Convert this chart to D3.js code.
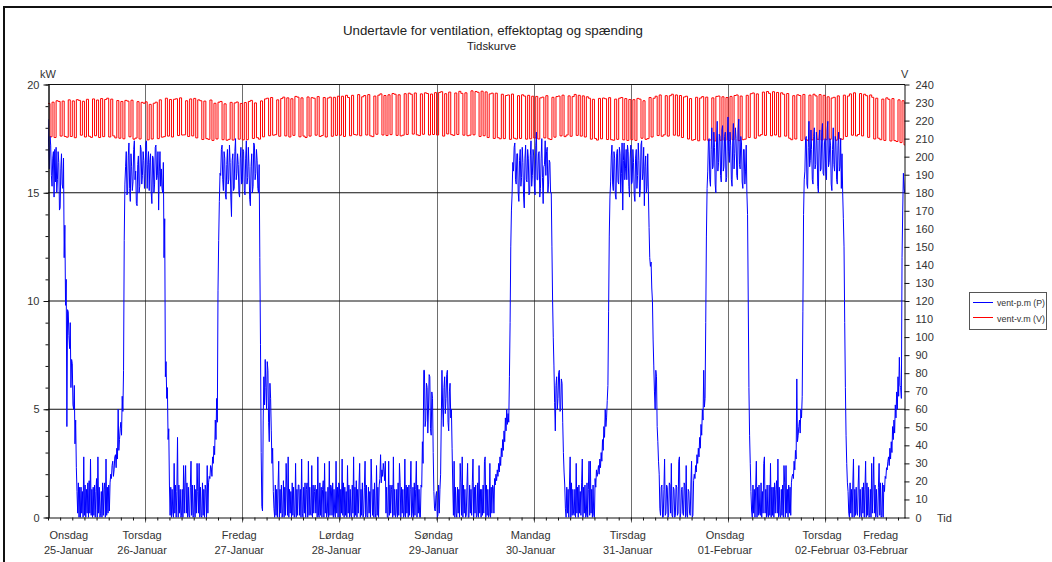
<!DOCTYPE html>
<html>
<head>
<meta charset="utf-8">
<script src="https://cdn.jsdelivr.net/npm/d3@7"></script>
<style>
  html, body { margin: 0; padding: 0; background: #fff; }
  svg { display: block; }
  text { font-family: "Liberation Sans", Arial, sans-serif; }
</style>
</head>
<body>
<svg id="chart" width="1052" height="562"></svg>
<script>
// Ventilation sub-panel: active power (kW, 10-minute samples) and voltage (V, 30-minute samples)
const dayNames   = ["Onsdag", "Torsdag", "Fredag", "Lørdag", "Søndag", "Mandag", "Tirsdag", "Onsdag", "Torsdag", "Fredag"];
const dateLabels = ["25-Januar", "26-Januar", "27-Januar", "28-Januar", "29-Januar", "30-Januar", "31-Januar", "01-Februar", "02-Februar", "03-Februar"];
const kwTicks = [0, 5, 10, 15, 20];
const vTicks  = [0, 10, 20, 30, 40, 50, 60, 70, 80, 90, 100, 110, 120, 130, 140, 150, 160, 170, 180, 190, 200, 210, 220, 230, 240];
const seriesNames = ["vent-p.m (P)", "vent-v.m (V)"];

// Power, kW, six samples per hour (one row per hour)
const powerWed25 = [
  18.4,17.1,16.1,17.6,17.2,15.8,
  15.3,16.6,16.9,14.8,17.0,15.5,
  17.1,15.0,15.6,16.9,16.4,14.2,
  14.3,16.1,16.8,15.4,15.2,16.6,
  12.0,13.5,9.8,11.0,4.2,9.6,
  9.5,8.4,7.8,9.0,6.0,7.3,
  7.1,5.2,5.0,6.1,3.4,4.5,
  2.3,1.2,0.2,1.6,0.0,1.4,
  0.0,1.4,0.2,1.2,0.0,2.8,
  0.1,1.5,0.0,1.3,0.2,1.6,
  0.0,1.7,0.2,2.7,0.1,1.3,
  0.0,1.4,0.1,1.5,0.0,1.2,
  1.8,0.0,2.8,0.2,1.4,0.0,
  0.2,1.2,0.0,1.6,0.1,1.3,
  1.6,0.0,2.7,0.1,1.4,0.2,
  1.5,0.3,1.6,2.0,1.8,2.4,
  2.6,1.9,2.2,2.8,2.9,2.3,
  3.2,2.7,5.0,3.1,3.6,4.1,
  4.4,3.8,5.6,4.9,6.8,12.8,
  15.4,16.2,16.9,14.9,15.0,16.7,
  17.3,15.2,14.6,16.8,16.2,15.1,
  15.5,17.0,17.4,15.6,16.0,14.5,
  14.4,16.3,16.7,15.0,15.3,17.2,
  17.0,15.4,15.8,16.9,16.5,15.2
];
const powerThu26 = [
  15.9,17.3,17.4,15.2,16.3,16.9,
  15.1,16.4,16.8,15.0,14.5,16.7,
  16.6,15.0,15.4,17.1,17.2,15.6,
  15.8,16.9,14.2,16.0,16.9,15.3,
  16.1,15.2,15.0,16.4,12.0,13.8,
  6.5,7.2,5.5,6.0,3.6,4.1,
  1.5,0.1,1.4,0.0,1.3,0.2,
  0.0,2.5,0.2,1.5,0.0,1.2,
  3.7,0.0,1.5,0.2,1.3,0.0,
  0.1,1.3,0.0,2.4,0.2,1.6,
  2.4,0.2,1.6,0.0,1.4,0.1,
  0.0,1.4,2.6,0.1,1.5,0.0,
  0.1,1.5,0.0,1.3,0.2,2.5,
  1.2,0.2,2.5,0.0,1.4,0.1,
  0.0,1.6,0.1,1.3,0.0,1.5,
  1.3,0.0,2.4,0.2,1.6,1.9,
  1.8,2.4,2.3,1.9,2.8,2.5,
  3.3,2.9,4.5,3.6,5.5,4.4,
  10.5,12.8,14.6,15.9,15.8,17.0,
  17.2,15.6,15.1,16.9,16.6,14.9,
  14.7,16.3,17.0,15.4,15.6,17.2,
  16.4,14.8,13.9,16.5,16.8,15.1,
  15.2,16.9,17.5,15.6,15.9,16.8,
  16.3,15.0,14.8,16.6,17.1,15.4
];
const powerFri27 = [
  15.5,17.0,16.9,15.1,14.9,16.6,
  17.4,15.4,15.7,17.1,16.2,14.7,
  14.4,16.2,16.8,15.0,15.3,17.3,
  17.2,15.6,15.9,17.0,16.5,15.2,
  15.0,16.3,12.0,8.0,3.0,0.5,
  0.3,4.5,6.5,5.2,7.3,6.0,
  5.0,7.2,6.8,4.4,3.5,6.2,
  5.5,4.0,2.5,3.2,1.2,0.4,
  0.0,1.5,0.1,1.3,0.0,1.4,
  2.6,0.0,1.3,0.2,1.5,0.0,
  0.2,1.7,0.0,1.4,0.1,2.5,
  1.4,0.1,2.8,0.0,1.3,0.2,
  1.2,0.0,1.6,0.1,1.4,0.0,
  0.2,2.5,0.0,1.3,0.1,1.5,
  1.5,0.1,1.3,0.0,2.7,0.2,
  0.0,1.4,0.2,1.6,0.0,1.3,
  1.6,0.0,2.6,0.1,1.4,0.2,
  0.1,2.4,0.0,1.5,0.2,1.2,
  1.5,0.2,1.3,0.0,2.8,0.1,
  0.0,1.6,0.1,1.4,0.0,1.3,
  1.7,0.0,2.5,0.2,1.2,0.0,
  0.2,1.4,0.0,2.6,0.1,1.5,
  1.4,0.1,1.6,0.0,1.3,0.2,
  0.0,2.6,0.2,1.4,0.0,1.6
];
const powerSat28 = [
  1.5,0.0,1.3,0.2,2.7,0.1,
  1.6,0.0,1.4,0.1,1.2,0.0,
  2.4,0.2,1.5,0.0,1.3,0.1,
  0.0,1.5,0.2,2.8,0.0,1.4,
  0.1,1.7,0.0,1.3,0.2,1.5,
  2.5,0.0,1.3,0.1,1.6,0.0,
  0.2,1.4,2.6,0.0,1.5,0.1,
  0.0,1.4,0.2,1.2,0.0,2.7,
  1.5,0.1,1.3,0.0,1.6,0.2,
  0.0,2.4,0.1,1.4,0.0,1.5,
  1.8,2.9,1.6,2.2,1.9,2.5,
  2.2,1.7,2.6,0.2,1.4,0.0,
  0.0,2.6,0.1,1.5,0.2,1.3,
  1.5,0.0,2.8,0.1,1.3,0.0,
  0.2,1.3,0.0,1.6,0.1,2.5,
  1.6,0.0,1.4,0.2,1.3,0.0,
  0.1,2.7,0.0,1.5,0.2,1.4,
  0.0,1.5,0.1,1.3,2.6,0.0,
  0.2,1.4,0.0,1.6,0.1,1.3,
  2.6,0.0,1.5,0.2,1.3,0.0,
  0.0,1.5,1.4,3.5,2.5,6.8,
  6.8,4.2,4.5,6.2,6.0,3.9,
  5.0,6.6,6.5,4.1,3.8,5.8,
  5.5,3.0,1.2,0.4,0.3,1.0
];
const powerSun29 = [
  1.2,0.0,0.1,1.5,0.2,1.3,
  2.0,4.5,6.8,5.1,4.2,6.0,
  6.5,4.8,5.5,6.6,6.8,4.4,
  4.0,5.8,6.2,4.6,5.0,3.2,
  1.5,0.1,2.6,0.0,1.4,0.2,
  0.0,1.4,0.2,1.3,0.0,2.5,
  1.6,0.1,2.8,0.0,1.5,0.2,
  1.3,0.0,0.1,1.4,2.5,0.0,
  0.0,1.5,0.2,1.3,0.1,1.6,
  2.7,0.0,1.4,0.2,1.5,0.0,
  0.1,1.6,0.0,2.4,0.2,1.3,
  0.0,1.3,0.1,1.5,0.2,2.6,
  2.8,0.0,1.5,0.1,1.3,0.0,
  0.1,2.5,0.0,1.4,0.2,1.5,
  1.4,0.2,1.8,1.5,2.0,1.7,
  2.2,1.9,2.5,2.1,2.8,2.4,
  3.2,2.8,3.6,3.1,4.0,3.5,
  4.6,4.0,5.0,4.3,4.8,4.4,
  6.5,9.0,12.5,14.2,15.0,16.4,
  16.0,17.1,17.3,15.6,15.4,16.8,
  16.8,15.0,14.6,16.5,17.0,15.3,
  15.7,17.1,16.4,14.8,14.3,16.6,
  17.2,15.6,15.5,17.0,16.6,14.9,
  15.0,16.7,17.4,15.3,15.8,17.0
];
const powerMon30 = [
  16.7,15.3,14.9,17.2,17.8,15.6,
  15.6,16.8,16.9,14.8,15.2,16.6,
  17.5,15.7,14.5,16.2,16.3,17.4,
  15.8,16.9,17.1,15.0,15.4,16.5,
  16.4,15.0,15.0,12.5,10.0,8.3,
  7.0,5.3,4.0,6.1,6.5,5.0,
  5.5,6.7,6.8,4.9,5.0,6.4,
  6.2,4.4,3.0,2.1,1.5,0.4,
  0.0,1.4,0.2,1.3,0.0,1.5,
  2.8,0.0,1.6,0.1,1.3,0.2,
  0.1,1.3,0.0,2.5,0.2,1.4,
  0.0,1.5,0.2,1.2,0.1,1.6,
  2.7,0.0,1.4,0.2,1.5,0.0,
  0.1,1.6,0.0,1.3,2.6,0.1,
  2.6,0.2,1.3,0.0,1.5,0.1,
  0.0,1.8,1.4,2.2,1.9,2.1,
  2.4,2.0,2.7,2.3,3.0,2.6,
  3.6,3.1,4.2,3.7,5.0,4.2,
  4.6,5.4,6.1,9.5,13.0,14.8,
  15.5,16.7,17.2,15.4,15.1,16.9,
  16.6,14.9,14.7,16.8,17.0,15.5,
  15.4,17.1,16.8,15.0,15.9,17.3,
  14.2,16.5,17.3,15.6,16.1,17.0,
  15.6,17.2,16.9,15.3,14.8,16.6
];
const powerTue31 = [
  17.2,15.4,15.5,17.0,16.4,14.9,
  14.6,16.6,17.0,15.2,15.8,17.3,
  16.5,14.8,15.1,17.2,17.4,15.6,
  15.9,17.1,14.4,16.2,16.7,15.0,
  15.3,16.8,15.0,13.4,12.0,11.6,
  11.8,10.6,10.0,8.2,7.0,5.8,
  5.0,6.8,6.5,4.2,3.5,2.6,
  2.0,0.4,0.1,1.4,1.5,0.0,
  0.0,1.3,2.7,0.1,0.2,1.5,
  1.4,0.0,0.1,1.6,1.5,0.2,
  2.5,0.1,0.0,1.4,1.3,0.0,
  0.1,1.5,1.4,0.1,0.2,2.6,
  2.8,0.0,0.2,1.3,1.4,0.2,
  0.1,1.6,1.5,0.0,2.4,0.1,
  0.0,1.3,1.2,0.2,0.1,1.5,
  2.6,0.0,0.1,1.7,2.0,1.8,
  2.4,2.1,2.9,2.5,3.2,2.8,
  3.7,3.2,4.3,3.8,5.0,4.5,
  6.8,5.1,5.5,9.0,13.0,15.2,
  16.0,17.4,17.5,15.6,15.3,17.0,
  18.0,16.1,16.2,17.8,17.1,15.4,
  15.0,17.3,18.3,16.0,16.4,17.7,
  17.6,15.8,15.5,17.9,18.1,16.0,
  16.2,17.6,17.8,15.5,15.7,17.4
];
const powerWed01 = [
  18.5,16.9,16.4,17.8,17.2,15.6,
  15.3,17.4,18.2,16.1,16.8,18.0,
  17.5,15.8,15.6,17.9,18.4,16.3,
  16.1,17.6,17.3,15.5,15.2,17.0,
  17.0,15.4,16.0,17.2,15.0,14.0,
  10.0,6.0,3.8,2.5,1.2,0.3,
  0.0,1.5,0.2,1.3,0.0,1.4,
  2.6,0.0,1.4,0.1,1.5,0.2,
  0.1,1.6,0.0,1.2,0.2,2.5,
  2.8,0.2,1.3,0.0,1.5,0.1,
  0.0,1.5,0.1,2.5,0.0,1.4,
  0.1,1.4,0.0,1.6,0.2,1.3,
  1.7,0.2,2.7,0.0,1.4,0.1,
  0.0,1.3,0.1,1.5,0.0,2.4,
  1.6,0.0,2.4,0.2,1.3,0.0,
  1.5,0.2,1.4,0.1,1.6,1.9,
  2.0,1.8,2.6,2.2,3.1,2.7,
  6.4,3.5,3.8,4.2,4.5,3.9,
  5.0,4.6,5.6,9.5,14.0,15.6,
  16.0,17.5,17.6,15.4,15.2,17.1,
  18.3,16.2,16.5,17.9,17.0,15.6,
  15.4,17.6,18.0,16.1,16.3,17.8,
  17.4,15.3,15.0,17.5,17.9,16.0,
  16.1,17.8,18.2,15.9,15.8,17.3
];
const powerThu02 = [
  17.5,16.0,15.6,17.9,18.3,16.2,
  16.4,17.5,17.2,15.4,15.1,17.0,
  18.0,16.3,16.0,17.6,17.4,15.6,
  15.4,17.2,17.8,16.0,16.2,17.5,
  15.2,16.8,15.0,13.8,12.5,9.0,
  6.0,3.8,2.5,1.6,1.2,0.2,
  0.0,1.6,0.2,1.3,0.0,1.5,
  2.7,0.0,1.3,0.1,1.4,0.2,
  0.1,1.5,2.4,0.0,1.3,0.1,
  0.0,1.4,0.2,1.6,0.0,1.3,
  2.6,0.0,1.6,0.1,1.4,0.0,
  0.1,1.3,0.0,2.5,0.2,1.5,
  2.8,0.2,1.5,0.0,1.3,0.1,
  0.0,1.4,2.5,0.1,1.6,0.0,
  0.1,1.6,0.0,1.5,1.2,1.9,
  1.8,2.3,2.2,2.6,2.8,2.4,
  3.2,2.7,3.5,3.0,4.2,3.6,
  4.5,3.9,5.2,4.6,5.8,5.0,
  6.5,5.6,7.4,6.1,6.0,5.5,
  12.0,14.2,15.9,15.2,15.0,15.6
];

// Voltage, V, two samples per hour
const voltWed25 = [
  229.5,211.0,230.2,210.6,231.0,230.6,211.4,230.8,211.2,210.8,231.5,211.2,230.9,210.5,231.6,231.2,211.9,230.7,210.9,231.8,211.3,210.7,232.0,211.6,
  231.4,210.6,232.2,211.1,231.7,232.4,210.9,231.9,211.5,210.4,231.1,210.2,230.6,209.9,231.2,230.8,211.0,231.3,209.7,210.3,230.5,209.8,230.1,229.6
];
const voltThu26 = [
  230.4,209.3,229.0,209.8,229.6,230.2,210.0,231.5,210.8,211.1,232.4,211.4,231.7,210.9,231.8,232.1,211.7,232.6,212.0,212.1,231.0,211.2,232.0,211.5,
  232.3,210.4,231.5,231.0,209.5,230.8,210.0,209.6,231.4,209.0,229.6,209.8,230.2,230.6,209.4,229.3,209.1,209.6,230.1,209.2,229.8,230.3,209.7,229.5
];
const voltFri27 = [
  209.3,230.0,209.4,230.6,231.2,210.1,229.8,210.5,209.7,230.9,211.0,232.0,232.4,211.6,232.8,211.9,212.2,231.5,211.3,232.2,233.0,211.5,232.6,210.9,
  232.1,211.8,233.4,233.0,211.0,232.6,211.4,210.6,233.1,211.4,232.7,232.4,211.9,233.3,211.2,211.7,232.8,210.9,232.5,233.0,211.3,232.9,211.8,233.5
];
const voltSat28 = [
  211.9,233.5,211.2,234.0,232.8,211.6,234.0,212.3,212.0,234.4,211.6,233.2,233.9,212.0,234.4,211.5,211.1,233.6,212.4,234.1,234.8,212.0,233.9,211.7,
  234.3,212.2,235.0,234.6,211.8,234.3,211.5,211.9,234.9,212.3,235.2,234.6,212.5,235.3,212.1,211.7,234.8,212.4,235.4,235.0,212.0,234.7,212.3,235.5
];
const voltSun29 = [
  212.0,235.6,236.0,211.4,234.9,212.6,235.8,212.2,211.8,235.3,212.3,236.2,235.1,211.9,235.4,211.6,211.9,236.5,212.1,236.1,235.7,211.2,236.3,211.6,
  235.9,210.6,234.8,235.2,210.1,235.2,210.5,209.9,234.6,210.0,233.9,234.2,209.6,234.7,210.2,209.8,233.8,210.1,234.3,233.6,209.7,234.0,209.9,233.5
];
const voltMon30 = [
  210.3,233.4,209.8,232.6,233.0,210.4,233.8,209.9,209.5,232.9,210.8,233.3,233.6,211.5,234.1,211.1,212.0,233.7,211.3,233.3,234.5,211.8,234.0,211.4,
  233.7,210.9,233.2,232.4,209.7,231.8,210.1,209.2,232.3,209.9,232.5,232.1,209.5,232.7,209.4,209.1,231.9,209.6,232.4,232.8,209.3,232.2,209.0,231.7
];
const voltTue31 = [
  209.4,231.6,209.0,232.3,231.9,210.2,231.0,209.6,210.0,232.8,210.9,232.4,233.5,211.7,234.2,211.3,212.1,233.8,211.4,233.8,234.6,211.9,234.2,211.5,
  233.9,210.6,233.1,233.5,209.8,232.2,209.1,209.5,232.9,208.8,232.5,233.3,209.2,233.0,208.9,209.3,232.6,208.7,233.4,233.6,209.1,233.2,209.0,232.8
];
const voltWed01 = [
  208.9,233.4,209.3,233.9,234.2,208.9,233.6,209.4,209.7,234.0,210.6,234.9,235.3,210.2,234.8,211.5,212.2,235.8,211.8,236.1,235.1,211.6,236.0,212.0,
  235.6,211.0,235.4,234.6,211.4,235.0,210.2,209.4,233.8,209.8,234.3,233.9,209.0,234.5,209.5,209.1,234.1,209.3,234.6,233.7,209.6,234.4,209.2,234.0
];
const voltThu02 = [
  209.4,233.2,209.6,232.5,232.9,209.1,233.7,210.0,209.6,234.1,
  211.2,233.6,234.8,211.9,235.4,211.5,212.3,235.0,211.5,234.6,
  233.8,210.7,234.2,232.9,209.8,232.4,210.2,209.4,231.9,209.0,
  232.6,231.8,208.7,232.2,208.9,208.4,231.5,207.8,231.0,206.5
];

const powerAll = [].concat(powerWed25, powerThu26, powerFri27, powerSat28, powerSun29, powerMon30, powerTue31, powerWed01, powerThu02);
const voltAll  = [].concat(voltWed25, voltThu26, voltFri27, voltSat28, voltSun29, voltMon30, voltTue31, voltWed01, voltThu02);

const HOUR = 3600 * 1000;
const t0 = new Date(2023, 0, 25);
const tEnd = new Date(+t0 + 211.73 * HOUR);

const powerData = powerAll.map((v, i) => ({ t: new Date(+t0 + i * HOUR / 6), v }));
const voltData = voltAll.map((v, i) => ({ t: new Date(+t0 + i * HOUR / 2), v }));
voltData.push({ t: tEnd, v: voltAll[voltAll.length - 1] });

const svg = d3.select("#chart");
const L = 48, R = 905, T = 84.5, B = 517.5;

const x = d3.scaleTime().domain([t0, tEnd]).range([L, R]);
const yP = d3.scaleLinear().domain([0, 20]).range([B, T]);
const yV = d3.scaleLinear().domain([0, 240]).range([B, T]);

// outer frame
svg.append("rect").attr("x", 4).attr("y", 7).attr("width", 1200).attr("height", 700)
  .attr("fill", "none").attr("stroke", "#111").attr("stroke-width", 2);

// titles
svg.append("text").attr("x", 493).attr("y", 35).attr("text-anchor", "middle")
  .attr("font-size", 13).attr("fill", "#222")
  .attr("textLength", 300).attr("lengthAdjust", "spacingAndGlyphs")
  .text("Undertavle for ventilation, effektoptag og spænding");
svg.append("text").attr("x", 491.5).attr("y", 50).attr("text-anchor", "middle")
  .attr("font-size", 10).attr("fill", "#222")
  .attr("textLength", 49).attr("lengthAdjust", "spacingAndGlyphs")
  .text("Tidskurve");

// grid: day boundaries (grey) and kW levels (black)
const midnights = d3.timeDay.range(d3.timeDay.offset(t0, 1), tEnd);
svg.append("g").selectAll("line").data(midnights).join("line")
  .attr("x1", d => Math.round(x(d)) + 0.5).attr("x2", d => Math.round(x(d)) + 0.5)
  .attr("y1", T).attr("y2", B + 5)
  .attr("stroke", "#6e6e6e").attr("stroke-width", 1);
svg.append("g").selectAll("line").data(kwTicks.filter(d => d > 0)).join("line")
  .attr("x1", L).attr("x2", R).attr("y1", d => yP(d)).attr("y2", d => yP(d))
  .attr("stroke", "#111").attr("stroke-width", 1);

// data
svg.append("defs").append("clipPath").attr("id", "plotClip")
  .append("rect").attr("x", L).attr("y", T - 1).attr("width", R - L).attr("height", B - T + 1);
const plot = svg.append("g").attr("clip-path", "url(#plotClip)");

plot.append("path").datum(voltData)
  .attr("fill", "none").attr("stroke", "#ff0000").attr("stroke-width", 1)
  .attr("d", d3.line().x(d => x(d.t)).y(d => yV(d.v)).curve(d3.curveStepAfter));
plot.append("path").datum(powerData)
  .attr("fill", "none").attr("stroke", "#0000ff").attr("stroke-width", 1)
  .attr("d", d3.line().x(d => x(d.t)).y(d => yP(d.v)));

// axes
function styleAxis(g) {
  g.attr("font-family", null).attr("font-size", null);
  g.selectAll("path.domain").attr("stroke", "#111");
  g.selectAll(".tick line").attr("stroke", "#111");
  g.selectAll(".tick text").attr("fill", "#333").attr("font-size", 11)
    .style("font-family", '"Liberation Sans", Arial, sans-serif');
}
svg.append("g").attr("transform", `translate(${L + 0.5},0)`)
  .call(d3.axisLeft(yP).tickValues(d3.range(0, 21)).tickSize(3).tickSizeOuter(0).tickFormat(""))
  .call(styleAxis);
svg.append("g").attr("transform", `translate(${L + 0.5},0)`)
  .call(d3.axisLeft(yP).tickValues(kwTicks).tickSize(5).tickPadding(4).tickSizeOuter(0))
  .call(styleAxis);
svg.append("g").attr("transform", `translate(${R - 0.5},0)`)
  .call(d3.axisRight(yV).tickValues(vTicks).tickSize(5).tickPadding(6).tickSizeOuter(0))
  .call(styleAxis);
svg.append("g").attr("transform", `translate(0,${B})`)
  .call(d3.axisBottom(x).ticks(d3.timeHour.every(3)).tickSize(3).tickSizeOuter(0).tickFormat(""))
  .call(styleAxis);
svg.append("line").attr("x1", L).attr("x2", R).attr("y1", T).attr("y2", T).attr("stroke", "#111");

// unit captions
svg.append("text").attr("x", 40).attr("y", 78).attr("font-size", 11).attr("fill", "#333").text("kW");
svg.append("text").attr("x", 901).attr("y", 78).attr("font-size", 11).attr("fill", "#333").text("V");
svg.append("text").attr("x", 937).attr("y", 522).attr("font-size", 11).attr("fill", "#333").text("Tid");

// day labels, centred on each midnight and kept inside the plot span
const dayStarts = d3.timeDay.range(t0, d3.timeDay.offset(tEnd, 1));
const lab = svg.append("g").attr("fill", "#333").attr("font-size", 11).attr("text-anchor", "middle");
dayStarts.forEach((d, i) => {
  const g = lab.append("g");
  const a = g.append("text").attr("y", 539).text(dayNames[i]);
  const b = g.append("text").attr("y", 554).text(dateLabels[i]);
  const w = Math.max(a.node().getComputedTextLength(), b.node().getComputedTextLength());
  let cx = x(d) - 3;
  cx = Math.max(cx, 44 + w / 2);
  cx = Math.min(cx, 908 - w / 2);
  a.attr("x", cx); b.attr("x", cx);
});

// legend
const lg = svg.append("g");
lg.append("rect").attr("x", 969.5).attr("y", 292.5).attr("width", 77).attr("height", 37)
  .attr("fill", "#fff").attr("stroke", "#555");
[["#0000ff", 302.5, 306], ["#ff0000", 317.5, 321.5]].forEach(([c, ly, ty], i) => {
  lg.append("line").attr("x1", 973).attr("x2", 993).attr("y1", ly).attr("y2", ly).attr("stroke", c);
  lg.append("text").attr("x", 997).attr("y", ty).attr("font-size", 9).attr("fill", "#333")
    .attr("textLength", 48).attr("lengthAdjust", "spacingAndGlyphs").text(seriesNames[i]);
});
</script>
</body>
</html>
